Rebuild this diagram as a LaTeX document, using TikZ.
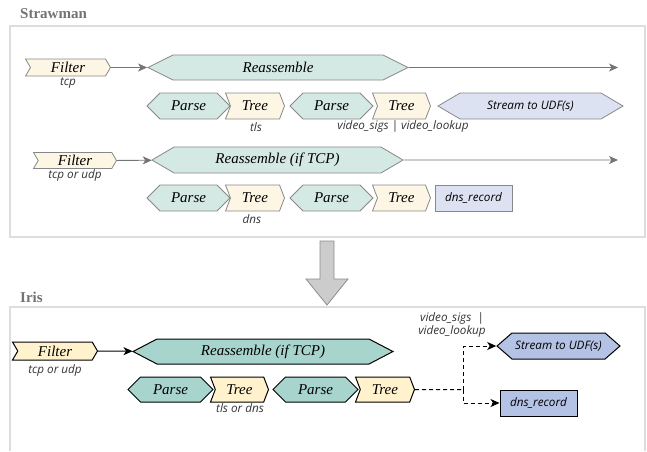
\documentclass[tikz,border=0pt]{standalone}
\usepackage{fontspec}
\setmainfont{Liberation Serif}
\setsansfont{Open Sans}
\usepackage{tikz}
\usetikzlibrary{shapes.symbols, arrows.meta}

\definecolor{swcream}{HTML}{FDF6E4}
\definecolor{swteal}{HTML}{D4E8E4}
\definecolor{swblue}{HTML}{DCE2F2}
\definecolor{swline}{HTML}{888888}
\definecolor{ircream}{HTML}{FFF2CC}
\definecolor{irteal}{HTML}{A8D4CE}
\definecolor{irblue}{HTML}{B4C2E6}
\definecolor{panelgray}{HTML}{DDDDDD}

\newcommand\bigit{\fontsize{15}{17}\selectfont\itshape}
\newcommand\smit{\fontsize{11.7}{13.5}\selectfont\sffamily\itshape}

\begin{document}
\begin{tikzpicture}[x=1pt, y=-1pt, >={Stealth[length=9pt, width=8pt, inset=2.5pt]},
  hexa/.style={signal, signal to=east and west, inner sep=0pt, font=\bigit},
  chev/.style={signal, signal from=west, signal to=east, inner sep=0pt, font=\bigit},
  rec/.style={rectangle, inner sep=0pt, font=\smit},
  sw/.style={draw=swline, line width=0.8pt},
  ir/.style={draw=black, line width=1pt},
  lbl/.style={font=\smit, inner sep=0pt, text=black!80},
  ttl/.style={font=\fontsize{15}{17}\selectfont\bfseries, text=black!55, anchor=west, inner sep=0pt},
  sarr/.style={->, swline!85!black, line width=0.8pt},
  iarr/.style={->, black, line width=1pt},
  iflow/.style={->, black, line width=1pt, dash pattern=on 4pt off 3pt}]
  \useasboundingbox (0,0) rectangle (647,451);
  % Strawman
  \node[ttl] (swtitle) at (20,14) {Strawman};
  \draw[panelgray, line width=1.2pt] (10,26) rectangle (645,237);
  % tcp pipeline
  \node[chev, sw, fill=swcream, minimum width=85, minimum height=17, signal pointer angle=119] (f1) at (68,67.5) {Filter};
  \node[hexa, sw, fill=swteal, minimum width=260, minimum height=25, signal pointer angle=53] (r1) at (278,67.5) {Reassemble};
  \coordinate (e1) at (618,67.5);
  \node[hexa, sw, fill=swteal, minimum width=83, minimum height=26, signal pointer angle=90] (p1) at (188.5,106) {Parse};
  \node[chev, sw, fill=swcream, minimum width=59, minimum height=26, signal pointer angle=138] (t1) at (255,106) {Tree};
  \node[hexa, sw, fill=swteal, minimum width=83, minimum height=26, signal pointer angle=90] (p2) at (331.5,106) {Parse};
  \node[chev, sw, fill=swcream, minimum width=58, minimum height=26, signal pointer angle=138] (t2) at (401.5,106) {Tree};
  \node[hexa, sw, fill=swblue, font=\smit, minimum width=185, minimum height=26, signal pointer angle=61] (s1) at (530.5,106) {Stream to UDF(s)};
  \node[lbl] (l1) at (68,83) {tcp};
  \node[lbl] (l2) at (256,127) {tls};
  \node[lbl] (l3) at (403,126) {video\_sigs | video\_lookup};
  \draw[sarr] (f1) -- (r1);
  \draw[sarr] (r1) -- (e1);
  % tcp or udp pipeline
  \node[chev, sw, fill=swcream, minimum width=83, minimum height=16, signal pointer angle=119] (f2) at (75,160.5) {Filter};
  \node[hexa, sw, fill=swteal, minimum width=251, minimum height=26, signal pointer angle=61] (r2) at (277.5,160) {Reassemble (if TCP)};
  \coordinate (e2) at (618,160);
  \node[hexa, sw, fill=swteal, minimum width=83, minimum height=26, signal pointer angle=90] (p3) at (188.5,198) {Parse};
  \node[chev, sw, fill=swcream, minimum width=59, minimum height=26, signal pointer angle=138] (t3) at (255,198) {Tree};
  \node[hexa, sw, fill=swteal, minimum width=83, minimum height=26, signal pointer angle=90] (p4) at (331.5,198) {Parse};
  \node[chev, sw, fill=swcream, minimum width=58, minimum height=26, signal pointer angle=138] (t4) at (401.5,198) {Tree};
  \node[rec, sw, fill=swblue, minimum width=77, minimum height=26] (d1) at (473.5,198) {dns\_record};
  \node[lbl] (l4) at (75,175) {tcp or udp};
  \node[lbl] (l5) at (252,219) {dns};
  \draw[sarr] (f2) -- (r2);
  \draw[sarr] (r2) -- (e2);
  % big arrow
  \draw[fill=black!20, draw=black!45, line width=0.8pt] (320,241) -- (334,241) -- (334,279) -- (348,279) -- (327,305) -- (306,279) -- (320,279) -- cycle;
  % Iris
  \node[ttl] (irtitle) at (20,297) {Iris};
  \draw[panelgray, line width=1.2pt] (10,451) -- (10,307) -- (645,307) -- (645,451);
  \node[chev, ir, fill=ircream, minimum width=85, minimum height=18, signal pointer angle=119] (f3) at (55,351) {Filter};
  \node[hexa, ir, fill=irteal, minimum width=260, minimum height=25, signal pointer angle=55] (r3) at (263,351.5) {Reassemble (if TCP)};
  \node[hexa, ir, fill=irteal, minimum width=85, minimum height=25, signal pointer angle=90] (p5) at (170.5,389.5) {Parse};
  \node[chev, ir, fill=ircream, minimum width=58, minimum height=25, signal pointer angle=138] (t5) at (239.5,389.5) {Tree};
  \node[hexa, ir, fill=irteal, minimum width=85, minimum height=25, signal pointer angle=90] (p6) at (315.5,389.5) {Parse};
  \node[chev, ir, fill=ircream, minimum width=59, minimum height=25, signal pointer angle=138] (t6) at (385,389.5) {Tree};
  \node[hexa, ir, fill=irblue, font=\smit, minimum width=123, minimum height=26, signal pointer angle=82] (s2) at (558.5,346) {Stream to UDF(s)};
  \node[rec, ir, fill=irblue, minimum width=77, minimum height=26] (d2) at (538.5,403) {dns\_record};
  \coordinate (j) at (463,389.5);
  \node[lbl] (l6) at (55,370) {tcp or udp};
  \node[lbl] (l7) at (240,408) {tls or dns};
  \node[lbl, align=center] (l8) at (452,325) {video\_sigs \ |\\video\_lookup};
  \draw[iarr] (f3) -- (r3);
  \draw[black, line width=1pt, dash pattern=on 4pt off 3pt] (t6) -- (j);
  \draw[iflow] (j) |- (s2);
  \draw[iflow] (j) |- (d2);
\end{tikzpicture}
\end{document}
